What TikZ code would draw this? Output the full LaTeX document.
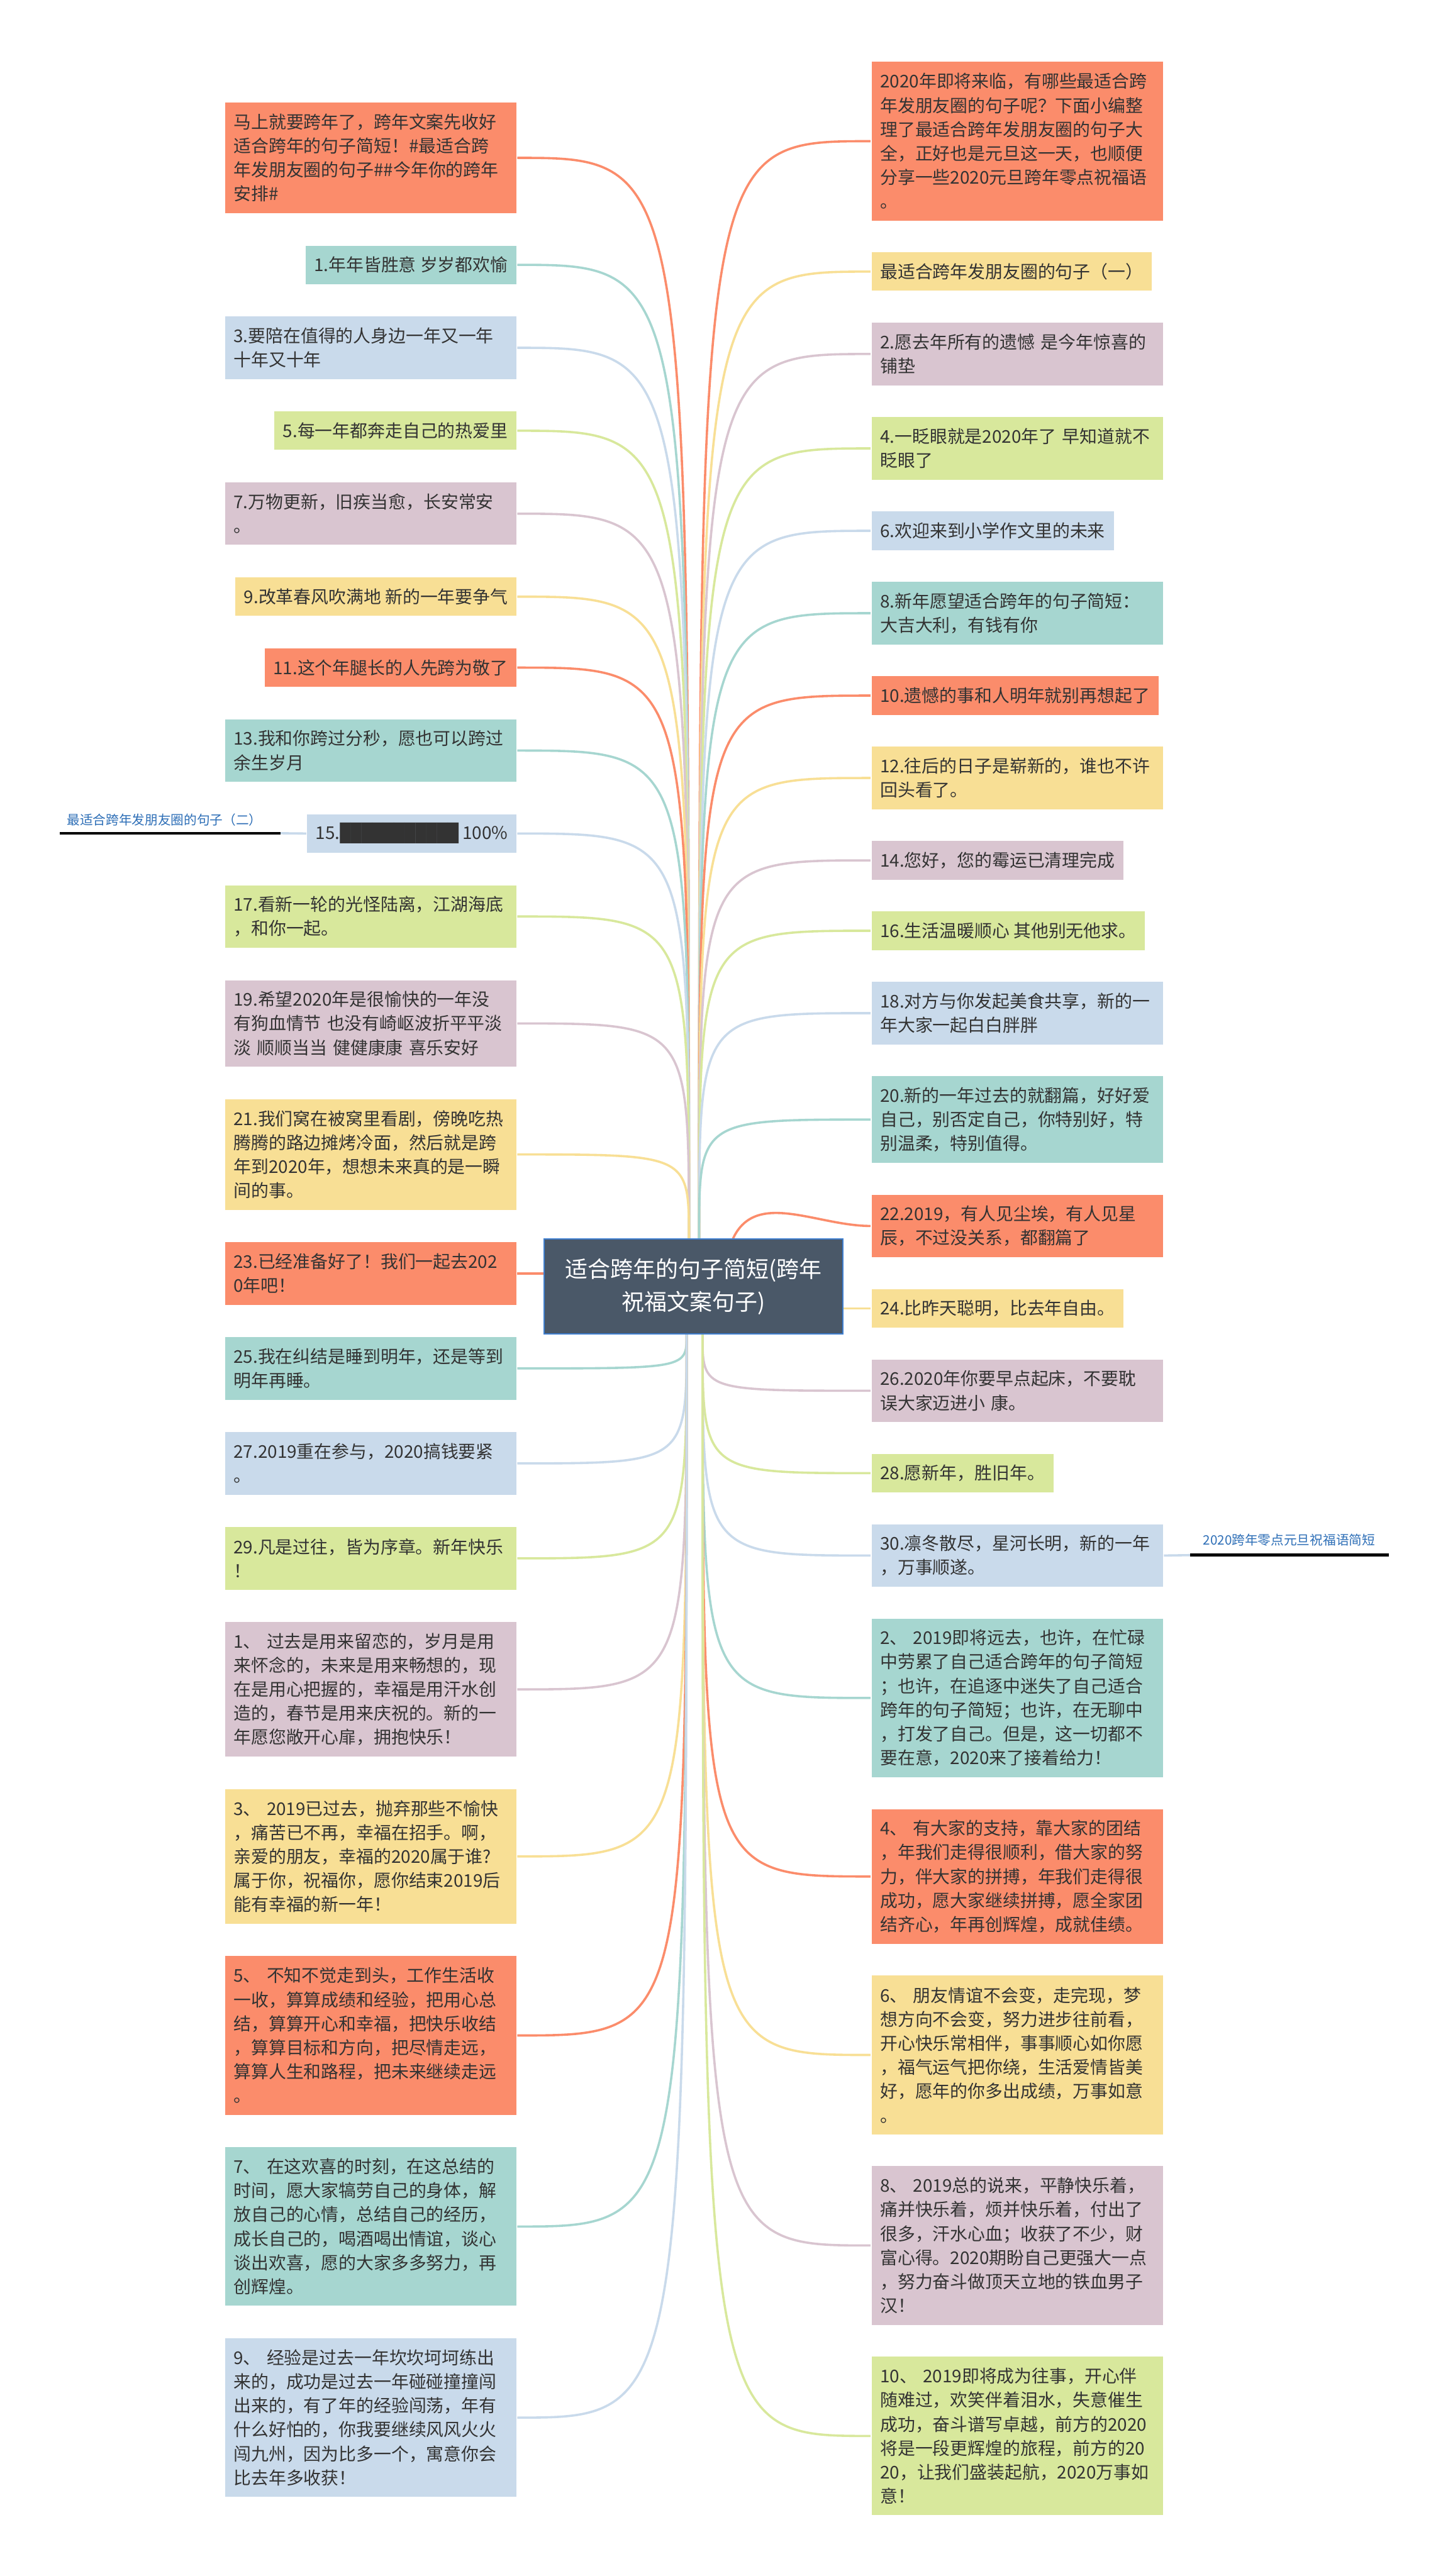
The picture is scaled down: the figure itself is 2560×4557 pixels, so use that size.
\documentclass[tikz,border=0pt]{standalone}
\usepackage{fontspec}
\usepackage{graphicx}
\setmainfont{Noto Sans CJK SC}
\newfontfamily\cjk{Noto Sans CJK SC}
\newfontfamily\djv{DejaVu Sans}
\usetikzlibrary{calc}
\pgfdeclarelayer{background}
\pgfsetlayers{background,main}
\definecolor{txt}{HTML}{333333}
\definecolor{cOr}{HTML}{FB8C6B}
\definecolor{cTe}{HTML}{A6D6D0}
\definecolor{cBl}{HTML}{C9DAEB}
\definecolor{cGr}{HTML}{D8E89C}
\definecolor{cPu}{HTML}{D9C5D0}
\definecolor{cYe}{HTML}{F8DF95}
\definecolor{cC}{HTML}{4A5868}
\definecolor{cCb}{HTML}{3F7FD0}
\definecolor{cLab}{HTML}{2E6FB7}
\tikzset{
  box/.style={font=\cjk\fontsize{31pt}{42.5pt}\selectfont, text=txt, inner xsep=16pt, inner ysep=8pt, draw=white, line width=1.5pt, align=left},
  wide/.style={text width=485pt},
  lbox/.style={box, anchor=north east},
  rbox/.style={box, anchor=north west},
  nl/.style={minimum height=42.5pt*#1+27pt},
  cbox/.style={fill=cC, draw=cCb, line width=2pt, text=white, font=\cjk\fontsize{40pt}{58pt}\selectfont, minimum width=529pt, minimum height=168pt, align=center, inner sep=0pt},
  lab/.style={font=\cjk\fontsize{23pt}{28pt}\selectfont, text=cLab, inner sep=0pt},
  lk/.style={line width=4pt, draw=#1},
  bar/.style={line width=5pt, draw=black}
}
\begin{document}
\begin{tikzpicture}[x=1pt,y=-1pt]
\useasboundingbox (0,0) rectangle (2560,4557);

% centre
\node[cbox] (C) at (1226.5,2276) {适合跨年的句子简短(跨年\\祝福文案句子)};
\coordinate (CTL) at ([xshift=-8pt]C.north);
\coordinate (CTR) at ([xshift=10pt]C.north);
\coordinate (CTR2) at ([xshift=70pt]C.north);
\coordinate (CBL) at ([xshift=-12pt]C.south);
\coordinate (CBR) at ([xshift=16pt]C.south);

% left column
\node[lbox, fill=cOr, wide, nl=4] (L0) at (915,180) {马上就要跨年了，跨年文案先收好\\适合跨年的句子简短！\#最适合跨\\年发朋友圈的句子\#\#今年你的跨年\\安排\#};
\node[lbox, fill=cTe, nl=1] (L1) at (915,433) {1.年年皆胜意 岁岁都欢愉};
\node[lbox, fill=cBl, wide, nl=2] (L2) at (915,558.5) {3.要陪在值得的人身边一年又一年\\十年又十年};
\node[lbox, fill=cGr, nl=1] (L3) at (915,726.5) {5.每一年都奔走自己的热爱里};
\node[lbox, fill=cPu, wide, nl=2] (L4) at (915,852) {7.万物更新，旧疾当愈，长安常安\\。};
\node[lbox, fill=cYe, nl=1] (L5) at (915,1020) {9.改革春风吹满地 新的一年要争气};
\node[lbox, fill=cOr, nl=1] (L6) at (915,1145.5) {11.这个年腿长的人先跨为敬了};
\node[lbox, fill=cTe, wide, nl=2] (L7) at (915,1271) {13.我和你跨过分秒，愿也可以跨过\\余生岁月};
\node[lbox, fill=cBl, nl=1] (L8) at (915,1439) {15.{\djv\scalebox{0.8}[1]{███████████}} 100\%};
\node[lbox, fill=cGr, wide, nl=2] (L9) at (915,1564.5) {17.看新一轮的光怪陆离，江湖海底\\，和你一起。};
\node[lbox, fill=cPu, wide, nl=3] (L10) at (915,1732.5) {19.希望2020年是很愉快的一年没\\有狗血情节~也没有崎岖波折平平淡\\淡~顺顺当当~健健康康~喜乐安好};
\node[lbox, fill=cYe, wide, nl=4] (L11) at (915,1943) {21.我们窝在被窝里看剧，傍晚吃热\\腾腾的路边摊烤冷面，然后就是跨\\年到2020年，想想未来真的是一瞬\\间的事。};
\node[lbox, fill=cOr, wide, nl=2] (L12) at (915,2196) {23.已经准备好了！我们一起去202\\0年吧！};
\node[lbox, fill=cTe, wide, nl=2] (L13) at (915,2364) {25.我在纠结是睡到明年，还是等到\\明年再睡。};
\node[lbox, fill=cBl, wide, nl=2] (L14) at (915,2532) {27.2019重在参与，2020搞钱要紧\\。};
\node[lbox, fill=cGr, wide, nl=2] (L15) at (915,2700) {29.凡是过往，皆为序章。新年快乐\\！};
\node[lbox, fill=cPu, wide, nl=5] (L16) at (915,2868) {1、~过去是用来留恋的，岁月是用\\来怀念的，未来是用来畅想的，现\\在是用心把握的，幸福是用汗水创\\造的，春节是用来庆祝的。新的一\\年愿您敞开心扉，拥抱快乐！};
\node[lbox, fill=cYe, wide, nl=5] (L17) at (915,3163.5) {3、~2019已过去，抛弃那些不愉快\\，痛苦已不再，幸福在招手。啊，\\亲爱的朋友，幸福的2020属于谁?\\属于你，祝福你，愿你结束2019后\\能有幸福的新一年！};
\node[lbox, fill=cOr, wide, nl=6] (L18) at (915,3459) {5、~不知不觉走到头，工作生活收\\一收，算算成绩和经验，把用心总\\结，算算开心和幸福，把快乐收结\\，算算目标和方向，把尽情走远，\\算算人生和路程，把未来继续走远\\。};
\node[lbox, fill=cTe, wide, nl=6] (L19) at (915,3797) {7、~在这欢喜的时刻，在这总结的\\时间，愿大家犒劳自己的身体，解\\放自己的心情，总结自己的经历，\\成长自己的，喝酒喝出情谊，谈心\\谈出欢喜，愿的大家多多努力，再\\创辉煌。};
\node[lbox, fill=cBl, wide, nl=6] (L20) at (915,4135) {9、~经验是过去一年坎坎坷坷练出\\来的，成功是过去一年碰碰撞撞闯\\出来的，有了年的经验闯荡，年有\\什么好怕的，你我要继续风风火火\\闯九州，因为比多一个，寓意你会\\比去年多收获！};

% right column
\node[rbox, fill=cOr, wide, nl=6] (R0) at (1540,108) {2020年即将来临，有哪些最适合跨\\年发朋友圈的句子呢？下面小编整\\理了最适合跨年发朋友圈的句子大\\全，正好也是元旦这一天，也顺便\\分享一些2020元旦跨年零点祝福语\\。};
\node[rbox, fill=cYe, nl=1] (R1) at (1540,445) {最适合跨年发朋友圈的句子（一）};
\node[rbox, fill=cPu, wide, nl=2] (R2) at (1540,569.5) {2.愿去年所有的遗憾~是今年惊喜的\\铺垫};
\node[rbox, fill=cGr, wide, nl=2] (R3) at (1540,736.5) {4.一眨眼就是2020年了~早知道就不\\眨眼了};
\node[rbox, fill=cBl, nl=1] (R4) at (1540,903.5) {6.欢迎来到小学作文里的未来};
\node[rbox, fill=cTe, wide, nl=2] (R5) at (1540,1028) {8.新年愿望适合跨年的句子简短：\\大吉大利，有钱有你};
\node[rbox, fill=cOr, nl=1] (R6) at (1540,1195) {10.遗憾的事和人明年就别再想起了};
\node[rbox, fill=cYe, wide, nl=2] (R7) at (1540,1319.5) {12.往后的日子是崭新的，谁也不许\\回头看了。};
\node[rbox, fill=cPu, nl=1] (R8) at (1540,1486.5) {14.您好，您的霉运已清理完成};
\node[rbox, fill=cGr, nl=1] (R9) at (1540,1611) {16.生活温暖顺心 其他别无他求。};
\node[rbox, fill=cBl, wide, nl=2] (R10) at (1540,1735.5) {18.对方与你发起美食共享，新的一\\年大家一起白白胖胖};
\node[rbox, fill=cTe, wide, nl=3] (R11) at (1540,1902.5) {20.新的一年过去的就翻篇，好好爱\\自己，别否定自己，你特别好，特\\别温柔，特别值得。};
\node[rbox, fill=cOr, wide, nl=2] (R12) at (1540,2112) {22.2019，有人见尘埃，有人见星\\辰，不过没关系，都翻篇了};
\node[rbox, fill=cYe, nl=1] (R13) at (1540,2279) {24.比昨天聪明，比去年自由。};
\node[rbox, fill=cPu, wide, nl=2] (R14) at (1540,2403.5) {26.2020年你要早点起床，不要耽\\误大家迈进小~康。};
\node[rbox, fill=cGr, nl=1] (R15) at (1540,2570.5) {28.愿新年，胜旧年。};
\node[rbox, fill=cBl, wide, nl=2] (R16) at (1540,2695) {30.凛冬散尽，星河长明，新的一年\\，万事顺遂。};
\node[rbox, fill=cTe, wide, nl=6] (R17) at (1540,2862) {2、~2019即将远去，也许，在忙碌\\中劳累了自己适合跨年的句子简短\\；也许，在追逐中迷失了自己适合\\跨年的句子简短；也许，在无聊中\\，打发了自己。但是，这一切都不\\要在意，2020来了接着给力！};
\node[rbox, fill=cOr, wide, nl=5] (R18) at (1540,3199) {4、~有大家的支持，靠大家的团结\\，年我们走得很顺利，借大家的努\\力，伴大家的拼搏，年我们走得很\\成功，愿大家继续拼搏，愿全家团\\结齐心，年再创辉煌，成就佳绩。};
\node[rbox, fill=cYe, wide, nl=6] (R19) at (1540,3493.5) {6、~朋友情谊不会变，走完现，梦\\想方向不会变，努力进步往前看，\\开心快乐常相伴，事事顺心如你愿\\，福气运气把你绕，生活爱情皆美\\好，愿年的你多出成绩，万事如意\\。};
\node[rbox, fill=cPu, wide, nl=6] (R20) at (1540,3830.5) {8、~2019总的说来，平静快乐着，\\痛并快乐着，烦并快乐着，付出了\\很多，汗水心血；收获了不少，财\\富心得。2020期盼自己更强大一点\\，努力奋斗做顶天立地的铁血男子\\汉！};
\node[rbox, fill=cGr, wide, nl=6] (R21) at (1540,4167.5) {10、~2019即将成为往事，开心伴\\随难过，欢笑伴着泪水，失意催生\\成功，奋斗谱写卓越，前方的2020\\将是一段更辉煌的旅程，前方的20\\20，让我们盛装起航，2020万事如\\意！};

% side labels
\node[lab] (T2) at (291,1450) {最适合跨年发朋友圈的句子（二）};
\coordinate (T2e) at (496,1474);
\coordinate (T2w) at (106,1474);
\node[lab] (T1) at (2280,2724) {2020跨年零点元旦祝福语简短};
\coordinate (T1w) at (2105,2751);
\coordinate (T1e) at (2456,2751);

\begin{pgfonlayer}{background}
\fill[white] (0,0) rectangle (2560,4557);
% left, above centre
\foreach \n/\c in {L0/cOr,L1/cTe,L2/cBl,L3/cGr,L4/cPu,L5/cYe,L6/cOr,L7/cTe,L8/cBl,L9/cGr,L10/cPu,L11/cYe}
  \draw[lk=\c] (CTL) .. controls (CTL |- \n.east) and (CTL |- \n.east) .. (\n.east);
% left, below centre
\foreach \n/\c in {L13/cTe,L14/cBl,L15/cGr,L16/cPu,L17/cYe,L18/cOr,L19/cTe,L20/cBl}
  \draw[lk=\c] (CBL) .. controls (CBL |- \n.east) and (CBL |- \n.east) .. (\n.east);
% right, above centre
\foreach \n/\c in {R0/cOr,R1/cYe,R2/cPu,R3/cGr,R4/cBl,R5/cTe,R6/cOr,R7/cYe,R8/cPu,R9/cGr,R10/cBl,R11/cTe}
  \draw[lk=\c] (CTR) .. controls (CTR |- \n.west) and (CTR |- \n.west) .. (\n.west);
\draw[lk=cOr] (CTR2) to[out=65,in=180] (R12.west);
% right, below centre
\foreach \n/\c in {R14/cPu,R15/cGr,R16/cBl,R17/cTe,R18/cOr,R19/cYe,R20/cPu,R21/cGr}
  \draw[lk=\c] (CBR) .. controls (CBR |- \n.west) and (CBR |- \n.west) .. (\n.west);
% sides
\draw[lk=cOr] (C.west |- L12.east) -- (L12.east);
\draw[lk=cYe] (C.east |- R13.west) -- (R13.west);
% labels
\draw[lk=cBl] (L8.west) -- (T2e);
\draw[bar] (T2e) -- (T2w);
\draw[lk=cBl] (R16.east) -- (T1w);
\draw[bar] (T1w) -- (T1e);
\end{pgfonlayer}
\end{tikzpicture}
\end{document}
